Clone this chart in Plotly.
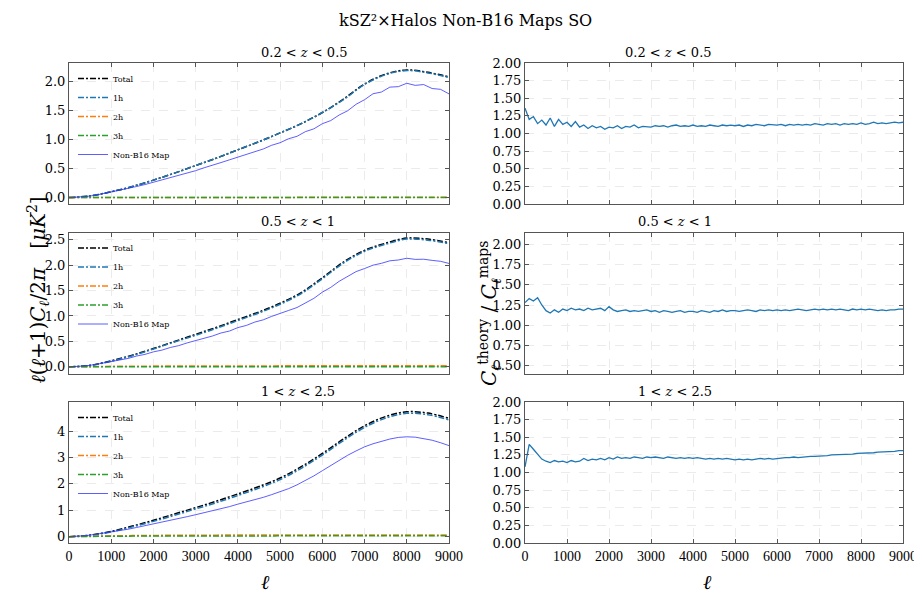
import plotly.graph_objects as go
from plotly.subplots import make_subplots

# ---- data ----
ell_theory = list(range(0, 9001, 500))
ell_map = list(range(0, 9001, 200))
ell_ratio = list(range(0, 9001, 100))

bins = ["0.2 < <i>z</i> < 0.5", "0.5 < <i>z</i> < 1", "1 < <i>z</i> < 2.5"]

total_1 = [0.0, 0.03, 0.10, 0.19, 0.30, 0.42, 0.55, 0.68, 0.82, 0.96, 1.11, 1.27, 1.46, 1.69, 1.95, 2.12, 2.19, 2.15, 2.07]
h1_1 = [0.0, 0.03, 0.10, 0.19, 0.30, 0.42, 0.55, 0.68, 0.82, 0.96, 1.11, 1.27, 1.46, 1.68, 1.94, 2.11, 2.18, 2.14, 2.06]
h2_1 = [0.0, 0.001, 0.001, 0.002, 0.002, 0.002, 0.003, 0.003, 0.003, 0.003, 0.003, 0.004, 0.004, 0.004, 0.004, 0.004, 0.004, 0.004, 0.004]
h3_1 = [0.0, 0.0, 0.0, 0.0, 0.001, 0.001, 0.001, 0.001, 0.001, 0.001, 0.001, 0.001, 0.001, 0.001, 0.001, 0.001, 0.001, 0.001, 0.001]

total_2 = [0.0, 0.03, 0.12, 0.23, 0.36, 0.50, 0.64, 0.78, 0.93, 1.08, 1.25, 1.46, 1.75, 2.06, 2.29, 2.43, 2.53, 2.51, 2.44]
h1_2 = [0.0, 0.03, 0.11, 0.22, 0.35, 0.49, 0.62, 0.76, 0.91, 1.06, 1.23, 1.44, 1.73, 2.04, 2.27, 2.41, 2.51, 2.49, 2.42]
h2_2 = [0.0, 0.005, 0.010, 0.013, 0.015, 0.016, 0.017, 0.018, 0.019, 0.019, 0.020, 0.020, 0.021, 0.021, 0.022, 0.022, 0.022, 0.022, 0.022]
h3_2 = [0.0, 0.001, 0.002, 0.003, 0.003, 0.003, 0.004, 0.004, 0.004, 0.004, 0.004, 0.004, 0.004, 0.004, 0.004, 0.004, 0.004, 0.004, 0.004]

total_3 = [0.0, 0.06, 0.20, 0.40, 0.62, 0.86, 1.10, 1.35, 1.62, 1.90, 2.22, 2.65, 3.15, 3.70, 4.20, 4.55, 4.73, 4.68, 4.48]
h1_3 = [0.0, 0.05, 0.18, 0.37, 0.58, 0.81, 1.05, 1.29, 1.56, 1.84, 2.16, 2.59, 3.09, 3.64, 4.14, 4.49, 4.67, 4.62, 4.42]
h2_3 = [0.0, 0.015, 0.030, 0.040, 0.047, 0.052, 0.055, 0.058, 0.060, 0.062, 0.063, 0.064, 0.065, 0.066, 0.066, 0.067, 0.067, 0.067, 0.067]
h3_3 = [0.0, 0.008, 0.016, 0.021, 0.024, 0.026, 0.027, 0.028, 0.029, 0.029, 0.030, 0.030, 0.030, 0.030, 0.030, 0.030, 0.030, 0.030, 0.030]

map_1 = [0.000, 0.006, 0.019, 0.036, 0.066, 0.090, 0.123, 0.148, 0.190, 0.224,
         0.264, 0.296, 0.339, 0.378, 0.421, 0.462, 0.512, 0.552, 0.601, 0.648,
         0.697, 0.738, 0.796, 0.834, 0.898, 0.942, 1.010, 1.052, 1.132, 1.180,
         1.268, 1.322, 1.418, 1.490, 1.602, 1.680, 1.782, 1.812, 1.896, 1.904,
         1.962, 1.926, 1.940, 1.872, 1.858, 1.780]
map_2 = [0.000, 0.005, 0.020, 0.043, 0.072, 0.098, 0.134, 0.166, 0.213, 0.246,
         0.295, 0.329, 0.381, 0.418, 0.472, 0.515, 0.566, 0.607, 0.666, 0.704,
         0.772, 0.814, 0.880, 0.924, 0.992, 1.044, 1.108, 1.166, 1.254, 1.346,
         1.468, 1.562, 1.682, 1.776, 1.872, 1.932, 1.998, 2.035, 2.084, 2.100,
         2.134, 2.112, 2.115, 2.092, 2.074, 2.032]
map_3 = [0.000, 0.011, 0.038, 0.082, 0.128, 0.172, 0.221, 0.282, 0.348, 0.412,
         0.478, 0.552, 0.618, 0.692, 0.758, 0.832, 0.902, 0.978, 1.062, 1.138,
         1.232, 1.308, 1.402, 1.488, 1.592, 1.702, 1.818, 1.962, 2.118, 2.302,
         2.498, 2.702, 2.896, 3.082, 3.248, 3.402, 3.518, 3.622, 3.698, 3.758,
         3.782, 3.768, 3.718, 3.652, 3.558, 3.448]

ratio_1 = [1.36, 1.20, 1.24, 1.14, 1.19, 1.12, 1.22, 1.10, 1.20, 1.13,
           1.16, 1.10, 1.17, 1.09, 1.12, 1.07, 1.11, 1.08, 1.10, 1.06,
           1.09, 1.08, 1.11, 1.07, 1.10, 1.09, 1.12, 1.08, 1.10, 1.09,
           1.09, 1.11, 1.10, 1.11, 1.09, 1.11, 1.12, 1.10, 1.11, 1.10,
           1.12, 1.10, 1.11, 1.10, 1.12, 1.11, 1.10, 1.12, 1.11, 1.12,
           1.11, 1.12, 1.10, 1.12, 1.11, 1.13, 1.12, 1.11, 1.13, 1.12,
           1.12, 1.13, 1.11, 1.13, 1.12, 1.13, 1.12, 1.13, 1.12, 1.14,
           1.13, 1.12, 1.14, 1.13, 1.14, 1.12, 1.14, 1.13, 1.14, 1.13,
           1.15, 1.13, 1.14, 1.16, 1.14, 1.15, 1.14, 1.15, 1.16, 1.15,
           1.16]
ratio_2 = [1.28, 1.33, 1.30, 1.34, 1.25, 1.18, 1.15, 1.19, 1.16, 1.20,
           1.18, 1.21, 1.19, 1.20, 1.18, 1.21, 1.19, 1.20, 1.21, 1.18,
           1.23, 1.19, 1.17, 1.18, 1.19, 1.17, 1.18, 1.17, 1.18, 1.19,
           1.17, 1.18, 1.16, 1.18, 1.17, 1.16, 1.17, 1.18, 1.16, 1.17,
           1.17, 1.16, 1.18, 1.17, 1.16, 1.18, 1.17, 1.19, 1.17, 1.18,
           1.18, 1.17, 1.18, 1.19, 1.18, 1.17, 1.19, 1.18, 1.19, 1.18,
           1.19, 1.18, 1.19, 1.18, 1.19, 1.20, 1.19, 1.18, 1.19, 1.20,
           1.19, 1.20, 1.19, 1.20, 1.19, 1.20, 1.19, 1.18, 1.20, 1.19,
           1.20, 1.19, 1.20, 1.19, 1.18, 1.19, 1.18, 1.19, 1.19, 1.20,
           1.20]
ratio_3 = [1.08, 1.40, 1.33, 1.26, 1.19, 1.16, 1.14, 1.17, 1.15, 1.16,
           1.14, 1.17, 1.15, 1.16, 1.20, 1.17, 1.19, 1.18, 1.20, 1.18,
           1.21, 1.19, 1.22, 1.20, 1.21, 1.20, 1.22, 1.21, 1.20, 1.22,
           1.21, 1.22, 1.21, 1.20, 1.22, 1.21, 1.20, 1.21, 1.20, 1.21,
           1.20, 1.21, 1.20, 1.19, 1.20, 1.19, 1.20, 1.19, 1.20, 1.19,
           1.18, 1.19, 1.18, 1.19, 1.18, 1.19, 1.20, 1.19, 1.20, 1.19,
           1.20, 1.20, 1.21, 1.21, 1.22, 1.21, 1.22, 1.22, 1.23, 1.23,
           1.23, 1.24, 1.24, 1.25, 1.25, 1.25, 1.26, 1.26, 1.26, 1.27,
           1.27, 1.27, 1.28, 1.28, 1.29, 1.29, 1.29, 1.30, 1.30, 1.31,
           1.31]

totals = [total_1, total_2, total_3]
h1s = [h1_1, h1_2, h1_3]
h2s = [h2_1, h2_2, h2_3]
h3s = [h3_1, h3_2, h3_3]
maps = [map_1, map_2, map_3]
ratios = [ratio_1, ratio_2, ratio_3]

# ---- figure ----
fig = make_subplots(rows=3, cols=2)

# page body has an 8px margin, so the figure sits 8px in from the window corner
OFF = 8
W, H = 922 - OFF, 593 - OFF


def px(x):
    return (x - OFF) / W


def py(y):
    return 1 - (y - OFF) / H


xdom_l = [px(69), px(449)]
xdom_r = [px(525), px(903)]
rows_px = [(63, 204), (232.5, 373.5), (402, 543)]
ydoms = [[py(b), py(t)] for t, b in rows_px]

serif = "DejaVu Serif"
dd = "6px,2px,2px,2px"
legends = ["legend", "legend2", "legend3"]

for i in range(3):
    r = i + 1
    lg = legends[i]
    fig.add_trace(go.Scatter(x=ell_theory, y=totals[i], name="Total", mode="lines", line_shape="spline",
                             line=dict(color="black", width=1.5, dash=dd), legend=lg), row=r, col=1)
    fig.add_trace(go.Scatter(x=ell_theory, y=h1s[i], name="1h", mode="lines", line_shape="spline",
                             line=dict(color="#1f77b4", width=1.5, dash=dd), legend=lg), row=r, col=1)
    fig.add_trace(go.Scatter(x=ell_theory, y=h2s[i], name="2h", mode="lines", line_shape="spline",
                             line=dict(color="#ff7f0e", width=1.5, dash=dd), legend=lg), row=r, col=1)
    fig.add_trace(go.Scatter(x=ell_theory, y=h3s[i], name="3h", mode="lines", line_shape="spline",
                             line=dict(color="#2ca02c", width=1.5, dash=dd), legend=lg), row=r, col=1)
    fig.add_trace(go.Scatter(x=ell_map, y=maps[i], name="Non-B16 Map", mode="lines",
                             line=dict(color="rgba(40,40,255,0.75)", width=1), legend=lg), row=r, col=1)
    fig.add_trace(go.Scatter(x=ell_ratio, y=ratios[i], mode="lines", showlegend=False,
                             line=dict(color="#1f77b4", width=1.3)), row=r, col=2)

axis_common = dict(showline=True, linecolor="#555", linewidth=1, mirror="allticks",
                   ticks="inside", ticklen=4, tickcolor="#555", automargin=False,
                   showgrid=True, gridcolor="#ebebeb", griddash="dash", gridwidth=0.8,
                   zeroline=False, tickfont=dict(family=serif, size=13, color="black"))

left_ranges = [[-0.11, 2.31], [-0.13, 2.64], [-0.24, 5.1]]
left_ticks = [[0, 0.5, 1.0, 1.5, 2.0], [0, 0.5, 1.0, 1.5, 2.0, 2.5], [0, 1, 2, 3, 4]]
left_fmt = [".1f", ".1f", "d"]
right_ranges = [[0, 2], [0.4, 2.15], [0, 2]]
right_ticks = [[0, 0.25, 0.5, 0.75, 1.0, 1.25, 1.5, 1.75, 2.0],
               [0.5, 0.75, 1.0, 1.25, 1.5, 1.75, 2.0],
               [0, 0.25, 0.5, 0.75, 1.0, 1.25, 1.5, 1.75, 2.0]]

for i in range(3):
    r = i + 1
    for c in (1, 2):
        xd = xdom_l if c == 1 else xdom_r
        fig.update_xaxes(axis_common, domain=xd, range=[0, 9000], tickvals=list(range(0, 9001, 1000)),
                         showticklabels=(r == 3), row=r, col=c)
        fig.update_xaxes(tickfont=dict(family="Liberation Serif", size=14), row=r, col=c)
    fig.update_yaxes(axis_common, domain=ydoms[i], range=left_ranges[i], tickvals=left_ticks[i],
                     tickformat=left_fmt[i], row=r, col=1)
    fig.update_yaxes(axis_common, domain=ydoms[i], range=right_ranges[i], tickvals=right_ticks[i],
                     tickformat=".2f", row=r, col=2)

# legends, one per left panel
lay = {}
for i in range(3):
    lay[legends[i]] = dict(x=xdom_l[0] + 4 / W, y=ydoms[i][1] - 1 / H, xanchor="left", yanchor="top",
                           bgcolor="rgba(0,0,0,0)", font=dict(family=serif, size=8, color="black"),
                           itemwidth=30, tracegroupgap=0)
fig.update_layout(**lay)

# panel titles
for i in range(3):
    for xd in (xdom_l, xdom_r):
        fig.add_annotation(text=bins[i], x=(xd[0] + xd[1]) / 2, y=ydoms[i][1], xref="paper", yref="paper",
                           yanchor="bottom", yshift=1, showarrow=False,
                           font=dict(family=serif, size=13, color="black"))

# axis labels
fig.add_annotation(text="<i>ℓ</i>(<i>ℓ</i>+1)<i>C<sub>ℓ</sub></i>/2<i>π</i>   [<i>μK</i><sup>2</sup>]",
                   x=px(21), y=py(290), xref="paper", yref="paper", textangle=-90, showarrow=False,
                   font=dict(family=serif, size=20, color="black"))
fig.add_annotation(text="<i>C<sub>ℓ</sub></i><sup>theory</sup> / <i>C<sub>ℓ</sub></i><sup>maps</sup>",
                   x=px(489), y=py(313), xref="paper", yref="paper", textangle=-90, showarrow=False,
                   font=dict(family=serif, size=20, color="black"))
for xd in (xdom_l, xdom_r):
    fig.add_annotation(text="<i>ℓ</i>", x=(xd[0] + xd[1]) / 2, y=py(568), xref="paper", yref="paper",
                       yanchor="top", showarrow=False, font=dict(family=serif, size=20, color="black"))

# title as an annotation so it can sit right at the top edge without clipping
fig.add_annotation(text="kSZ²×Halos Non-B16 Maps SO", x=0.5, y=1, xref="paper", yref="paper",
                   xanchor="center", yanchor="top", yshift=-1, showarrow=False,
                   font=dict(family=serif, size=16, color="black"))

fig.update_layout(
    width=W, height=H,
    margin=dict(l=0, r=0, t=0, b=0),
    paper_bgcolor="white", plot_bgcolor="white",
)

fig.write_html("out.html")
